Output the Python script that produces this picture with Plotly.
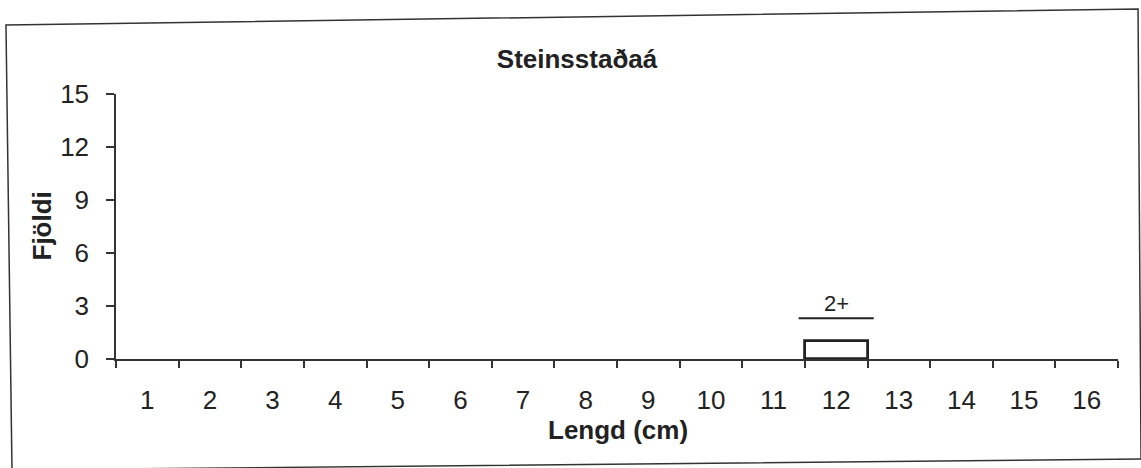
import plotly.graph_objects as go

# Length distribution of fish caught in Steinsstaðaá
lengths = [1, 2, 3, 4, 5, 6, 7, 8, 9, 10, 11, 12, 13, 14, 15, 16]
counts = [0, 0, 0, 0, 0, 0, 0, 0, 0, 0, 0, 1, 0, 0, 0, 0]
y_ticks = [0, 3, 6, 9, 12, 15]

# Age-group bracket drawn above the bars
age_labels = ["2+"]
age_from = [11.4]
age_to = [12.6]
age_level = [2.3]

FONT = "Liberation Sans, Arial, sans-serif"
INK = "#222222"

W, H = 1141, 468
L, R, T, B = 116, 23, 94, 109
PW, PH = W - L - R, H - T - B


def px_to_paper(px, py):
    return (px - L) / PW, (H - B - py) / PH


fig = go.Figure()
fig.add_trace(go.Bar(
    x=lengths, y=counts, width=1,
    marker=dict(color="white",
                line=dict(color=INK, width=[2.8 if c > 0 else 0 for c in counts])),
    showlegend=False, hoverinfo="x+y",
))

shapes = []
annotations = []
for lab, x0, x1, lvl in zip(age_labels, age_from, age_to, age_level):
    shapes.append(dict(type="line", xref="x", yref="y", x0=x0, x1=x1, y0=lvl, y1=lvl,
                       line=dict(color=INK, width=2)))
    annotations.append(dict(text=lab, x=(x0 + x1) / 2, y=lvl, xref="x", yref="y",
                            yanchor="bottom", showarrow=False, yshift=0,
                            font=dict(family=FONT, size=22, color=INK)))

# Outer frame around the whole chart
corners = [(6, 25), (1138, 9), (1141, 459), (12, 470)]
pts = [px_to_paper(x, y) for x, y in corners]
path = "M " + " L ".join(f"{x:.4f},{y:.4f}" for x, y in pts) + " Z"
shapes.append(dict(type="path", xref="paper", yref="paper", path=path,
                   line=dict(color="#333333", width=1.5), layer="below"))

# Axis titles
annotations.append(dict(text="<b>Fjöldi</b>", xref="paper", yref="paper",
                        x=px_to_paper(41, 0)[0], y=0.5, xanchor="center", yanchor="middle",
                        textangle=-90, showarrow=False,
                        font=dict(family=FONT, size=26, color=INK)))
annotations.append(dict(text="<b>Lengd (cm)</b>", xref="paper", yref="paper",
                        x=px_to_paper(618, 0)[0], y=px_to_paper(0, 430)[1],
                        xanchor="center", yanchor="middle", showarrow=False,
                        font=dict(family=FONT, size=26, color=INK)))

fig.update_layout(
    width=W, height=H,
    margin=dict(l=L, r=R, t=T, b=B),
    paper_bgcolor="white", plot_bgcolor="white",
    bargap=0,
    title=dict(text="<b>Steinsstaðaá</b>", x=577 / W,
               xanchor="center", y=1 - 59 / H, yanchor="middle", yref="container",
               font=dict(family=FONT, size=26, color=INK)),
    font=dict(family=FONT, size=26, color=INK),
    shapes=shapes,
    annotations=annotations,
)

fig.update_xaxes(
    range=[0.5, 16.5], tickvals=lengths, ticktext=[str(v) for v in lengths],
    ticks="", showgrid=False, zeroline=False, showline=True,
    linecolor="#333333", linewidth=1.5, ticklabelstandoff=17,
    tickfont=dict(family=FONT, size=26, color=INK),
    minor=dict(tickvals=[v - 0.5 for v in lengths] + [16.5], ticks="outside",
               ticklen=7, tickcolor="#333333", tickwidth=1.5, showgrid=False),
)
fig.update_yaxes(
    range=[0, 15], tickvals=y_ticks, ticks="outside", ticklen=8,
    tickcolor="#333333", tickwidth=1.5, showgrid=False, zeroline=False,
    showline=True, linecolor="#333333", linewidth=1.5, ticklabelstandoff=12,
    tickfont=dict(family=FONT, size=26, color=INK),
)

fig.write_html("out.html")
